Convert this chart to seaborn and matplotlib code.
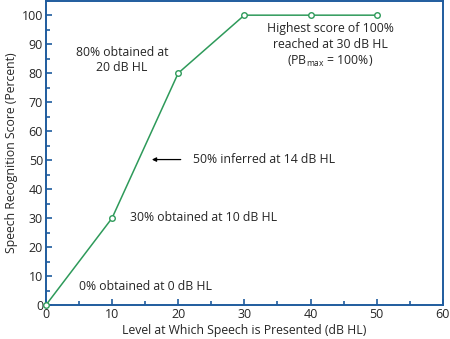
import matplotlib
matplotlib.use("Agg")
import matplotlib.pyplot as plt
import seaborn as sns
import pandas as pd
from matplotlib.ticker import MultipleLocator

levels = [0, 10, 20, 30, 40, 50]
scores = [0, 30, 80, 100, 100, 100]
xticks = [0, 10, 20, 30, 40, 50, 60]
yticks = [0, 10, 20, 30, 40, 50, 60, 70, 80, 90, 100]

sns.set_theme(style="ticks")
plt.rcParams['font.family'] = ['Open Sans', 'DejaVu Sans']

df = pd.DataFrame({"level": levels, "score": scores})
blue = "#1f5c9e"
green = "#2e9a5a"

fig = plt.figure(figsize=(4.5, 3.39), dpi=100)
ax = fig.add_axes([0.102, 0.100, 0.882, 0.898])
sns.lineplot(data=df, x="level", y="score", ax=ax, color=green, lw=1.1,
             marker="o", markersize=4, markerfacecolor="white",
             markeredgecolor=green, markeredgewidth=1.0, clip_on=False, zorder=5)
ax.set_xlim(0, 60)
ax.set_ylim(0, 105)
ax.set_xticks(xticks)
ax.set_yticks(yticks)
ax.xaxis.set_minor_locator(MultipleLocator(5))
ax.yaxis.set_minor_locator(MultipleLocator(5))
ax.tick_params(which="both", direction="in", color=blue, width=1.2, labelsize=9,
               top=False, right=False, pad=2)
ax.tick_params(which="major", length=4)
ax.tick_params(which="minor", length=3)
for s in ax.spines.values():
    s.set_color(blue)
    s.set_linewidth(1.4)
    s.set_visible(True)
ax.set_xlabel("Level at Which Speech is Presented (dB HL)", fontsize=8.8, labelpad=2)
ax.set_ylabel("Speech Recognition Score (Percent)", fontsize=8.8, labelpad=3)

fs = 8.8
ax.text(11.5, 84.5, "80% obtained at\n20 dB HL", ha="center", va="center", fontsize=fs, linespacing=1.25)
ax.text(43.0, 89.5, "Highest score of 100%\nreached at 30 dB HL\n(PB$_{\\mathregular{max}}$ = 100%)",
        ha="center", va="center", fontsize=fs, linespacing=1.25)
ax.text(22.2, 50.2, "50% inferred at 14 dB HL", ha="left", va="center", fontsize=fs)
ax.annotate("", xy=(15.6, 50.2), xytext=(20.8, 50.2),
            arrowprops=dict(arrowstyle="-|>", color="black", lw=0.9, mutation_scale=6))
ax.text(12.7, 30.2, "30% obtained at 10 dB HL", ha="left", va="center", fontsize=fs)
ax.text(5.0, 6.5, "0% obtained at 0 dB HL", ha="left", va="center", fontsize=fs)

fig.savefig("out.png", dpi=100)
